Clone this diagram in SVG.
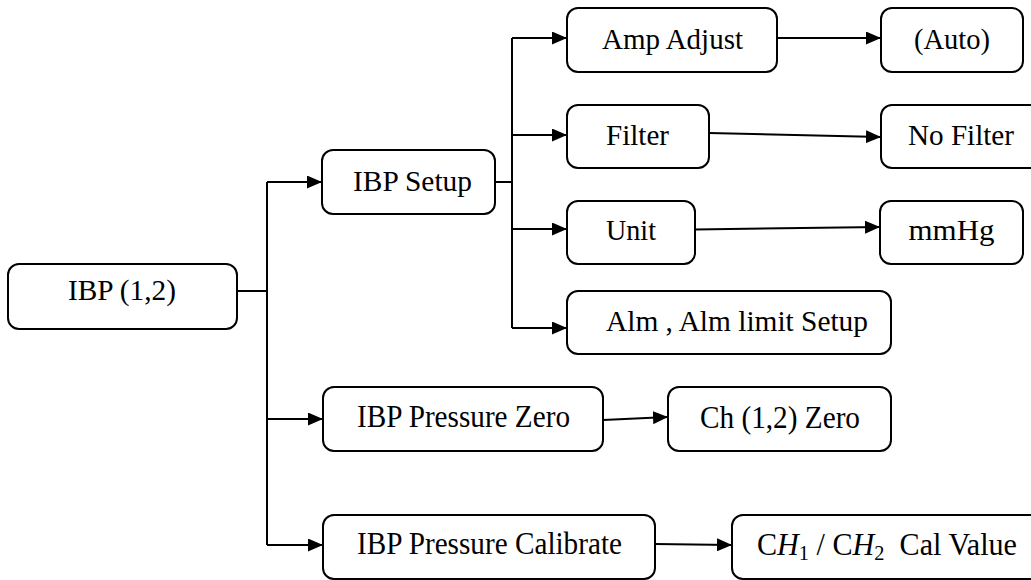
<svg xmlns="http://www.w3.org/2000/svg" width="1031" height="580" viewBox="0 0 1031 580">
<style>
.box{fill:#fff;stroke:#000;stroke-width:2}
.t{font-family:'Liberation Serif','Times New Roman','DejaVu Serif',serif;font-size:28.5px;fill:#000;text-anchor:middle}
.b{font-size:31px}
.c{fill:none;stroke:#000;stroke-width:2}
.a{fill:none;stroke:#000;stroke-width:2;marker-end:url(#ah)}
</style>
<defs>
<marker id="ah" viewBox="0 0 15 13" refX="15" refY="6.5" markerWidth="15" markerHeight="13" markerUnits="userSpaceOnUse" orient="auto">
<path d="M0,0 L15,6.5 L0,13 Z" fill="#000"/>
</marker>
</defs>
<rect width="1031" height="580" fill="#fff"/>
<g id="connectors">
<path class="c" d="M237,291 H267"/>
<path class="c" d="M267,182 V545"/>
<path class="a" d="M267,182 H322"/>
<path class="a" d="M267,419 H323"/>
<path class="a" d="M267,545 H323"/>
<path class="c" d="M495,182 H512"/>
<path class="c" d="M512,38 V328"/>
<path class="a" d="M512,38 H567"/>
<path class="a" d="M512,135 H567"/>
<path class="a" d="M512,229 H567"/>
<path class="a" d="M512,328 H567"/>
<path class="a" d="M777,38 H881"/>
<path class="a" d="M709,133 L881,137"/>
<path class="a" d="M695,229.5 L880,227"/>
<path class="a" d="M603,420 L668,417"/>
<path class="a" d="M655,544 L732,545"/>
</g>
<g id="nodes">
<g id="ibp12"><rect class="box" x="8" y="264" width="229" height="65" rx="11"/><text class="t" x="122" y="300" textLength="108" lengthAdjust="spacingAndGlyphs">IBP (1,2)</text></g>
<g id="ibpsetup"><rect class="box" x="322" y="150" width="173" height="64" rx="11"/><text class="t" x="412.5" y="191" textLength="119" lengthAdjust="spacingAndGlyphs">IBP Setup</text></g>
<g id="ampadjust"><rect class="box" x="567" y="8" width="210" height="64" rx="11"/><text class="t" x="672.5" y="49" textLength="141" lengthAdjust="spacingAndGlyphs">Amp Adjust</text></g>
<g id="auto"><rect class="box" x="881" y="8" width="142" height="64" rx="11"/><text class="t" x="952" y="49" textLength="76" lengthAdjust="spacingAndGlyphs">(Auto)</text></g>
<g id="filter"><rect class="box" x="567" y="105" width="142" height="63" rx="11"/><text class="t" x="637.5" y="145" textLength="63" lengthAdjust="spacingAndGlyphs">Filter</text></g>
<g id="nofilter"><rect class="box" x="881" y="105" width="165" height="63" rx="11"/><text class="t" x="961" y="145" textLength="106" lengthAdjust="spacingAndGlyphs">No Filter</text></g>
<g id="unit"><rect class="box" x="567" y="201" width="128" height="63" rx="11"/><text class="t" x="631" y="240" textLength="50" lengthAdjust="spacingAndGlyphs">Unit</text></g>
<g id="mmhg"><rect class="box" x="880" y="201" width="143" height="63" rx="11"/><text class="t" x="951.5" y="240" textLength="86" lengthAdjust="spacingAndGlyphs">mmHg</text></g>
<g id="alm"><rect class="box" x="567" y="291" width="324" height="63" rx="11"/><text class="t" x="737" y="331" textLength="262" lengthAdjust="spacingAndGlyphs">Alm , Alm limit Setup</text></g>
<g id="pzero"><rect class="box" x="323" y="387" width="280" height="64" rx="11"/><text class="t b" x="463.5" y="427" textLength="213" lengthAdjust="spacingAndGlyphs">IBP Pressure Zero</text></g>
<g id="chzero"><rect class="box" x="668" y="387" width="223" height="64" rx="11"/><text class="t b" x="780" y="428" textLength="160" lengthAdjust="spacingAndGlyphs">Ch (1,2) Zero</text></g>
<g id="pcal"><rect class="box" x="323" y="515" width="332" height="64" rx="11"/><text class="t b" x="489.5" y="554" textLength="265" lengthAdjust="spacingAndGlyphs">IBP Pressure Calibrate</text></g>
<g id="calvalue"><rect class="box" x="732" y="515" width="310" height="64" rx="11"/><text class="t b" x="757" y="555" style="text-anchor:start" textLength="260" lengthAdjust="spacingAndGlyphs">C<tspan font-style="italic">H</tspan><tspan style="font-size:21px" dy="5">1</tspan><tspan dy="-5"> / C</tspan><tspan font-style="italic">H</tspan><tspan style="font-size:21px" dy="5">2</tspan><tspan dy="-5" xml:space="preserve">  Cal Value</tspan></text></g>
</g>
</svg>
